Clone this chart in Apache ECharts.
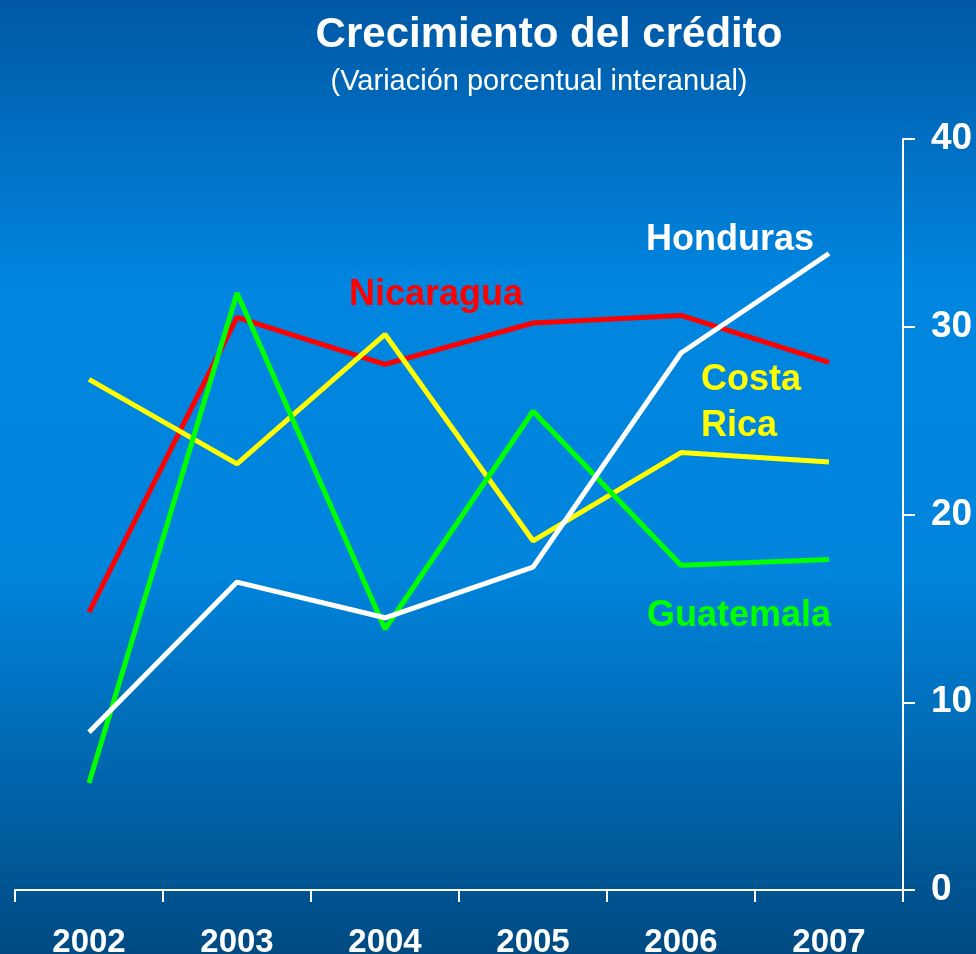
<!DOCTYPE html>
<html>
<head>
<meta charset="utf-8">
<script src="https://cdn.jsdelivr.net/npm/echarts@6/dist/echarts.min.js"></script>
<style>
  html, body { margin: 0; padding: 0; }
  #chart { width: 976px; height: 954px; }
</style>
</head>
<body>
<div id="chart"></div>
<script>
var years = ['2002', '2003', '2004', '2005', '2006', '2007'];
var nicaragua = [14.8, 30.5, 28.0, 30.2, 30.6, 28.1];
var costaRica = [27.2, 22.7, 29.6, 18.6, 23.3, 22.8];
var guatemala = [5.7, 31.8, 13.9, 25.5, 17.3, 17.6];
var honduras = [8.4, 16.4, 14.5, 17.2, 28.6, 33.9];

(function () {
  var myChart = echarts.init(document.getElementById('chart'));
  var font = 'Liberation Sans, Arial, sans-serif';

  function line(name, data, color) {
    return {
      name: name,
      type: 'line',
      data: data,
      symbol: 'none',
      lineStyle: { color: color, width: 5 },
      animation: false
    };
  }

  // etiquetas de las series
  function tag(text, x, y, color) {
    return {
      type: 'text',
      left: x,
      top: y,
      style: {
        text: text,
        fill: color,
        font: 'bold 36px ' + font,
        lineHeight: 46
      }
    };
  }

  var option = {
    backgroundColor: new echarts.graphic.LinearGradient(0, 0, 0, 1, [
      { offset: 0, color: '#0058a4' },
      { offset: 0.3, color: '#0086e0' },
      { offset: 0.6, color: '#0084dc' },
      { offset: 1, color: '#004a82' }
    ]),
    title: [{
      text: 'Crecimiento del crédito',
      left: 544,
      textAlign: 'center',
      top: 9,
      textStyle: { color: '#fff', fontSize: 42, fontWeight: 'bold', fontFamily: font }
    }, {
      text: '(Variación porcentual interanual)',
      left: 534,
      textAlign: 'center',
      top: 62,
      textStyle: { color: '#fff', fontSize: 29, fontWeight: 'normal', fontFamily: font }
    }],
    grid: { left: 15, right: 73, top: 139, bottom: 64, outerBoundsMode: 'none' },
    xAxis: {
      type: 'category',
      data: years,
      boundaryGap: true,
      axisLine: { lineStyle: { color: '#fff', width: 2 } },
      axisTick: { show: true, length: 12, lineStyle: { color: '#fff', width: 2 } },
      axisLabel: { color: '#fff', fontSize: 33, fontWeight: 'bold', fontFamily: font, margin: 36 }
    },
    yAxis: {
      type: 'value',
      position: 'right',
      min: 0,
      max: 40,
      interval: 10,
      axisLine: { show: true, lineStyle: { color: '#fff', width: 2 } },
      axisTick: { show: true, length: 12, lineStyle: { color: '#fff', width: 2 } },
      axisLabel: { color: '#fff', fontSize: 37, fontWeight: 'bold', fontFamily: font, margin: 28 },
      splitLine: { show: false }
    },
    series: [
      line('Nicaragua', nicaragua, '#ff0000'),
      line('Costa Rica', costaRica, '#ffff00'),
      line('Guatemala', guatemala, '#00ff00'),
      line('Honduras', honduras, '#ffffff')
    ],
    graphic: [
      tag('Nicaragua', 349, 272, '#ff0000'),
      tag('Honduras', 646, 217, '#ffffff'),
      tag('Costa\nRica', 701, 357, '#ffff00'),
      tag('Guatemala', 647, 593, '#00ff00')
    ]
  };

  myChart.setOption(option);
  window.addEventListener('resize', function () {
    myChart.resize();
  });
})();
</script>
</body>
</html>
